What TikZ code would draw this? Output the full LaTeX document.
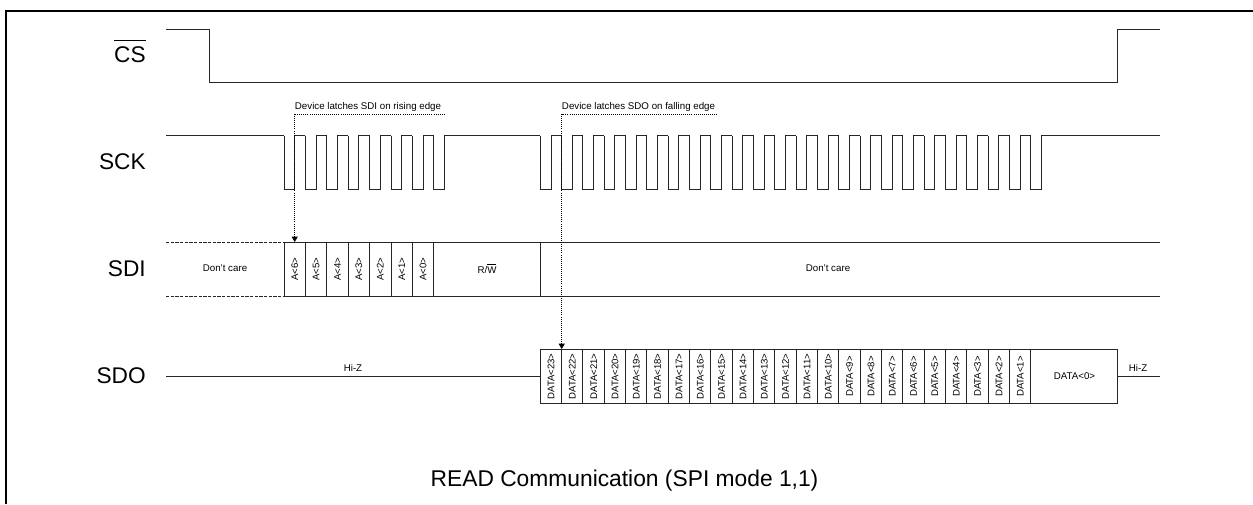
\documentclass[tikz,border=0pt]{standalone}
\usepackage{fontspec}
\setmainfont{Liberation Sans}
\usetikzlibrary{arrows.meta}
\begin{document}
\begin{tikzpicture}[
  x={(0.75pt,0pt)},
  y={(0pt,-0.75pt)},
  line join=miter,
  wave/.style={draw=black!85,line width=0.75pt},
  frameline/.style={draw=black,line width=1.4pt},
  latch/.style={draw=black,line width=0.55pt,densely dotted},
  latchtip/.style={-{Triangle[length=4pt,width=4.5pt]}},
  signal/.style={anchor=east,inner sep=0pt,font=\fontsize{17}{19}\selectfont},
  note/.style={anchor=west,inner sep=0pt,font=\fontsize{7.3}{9}\selectfont},
  small/.style={inner sep=0pt,font=\fontsize{7.3}{9}\selectfont},
  bit/.style={inner sep=0pt,rotate=90,font=\fontsize{7.2}{9}\selectfont}
]
  \useasboundingbox (0,0) rectangle (1253,504);

  % Frame is open on the right and at the bottom.
  \draw[frameline] (6.4,504) -- (6.4,11) -- (1253,11);

  % Signal names and caption.
  \node[signal,anchor=base east] (cs) at (146,62) {$\overline{\hbox{\rule{0pt}{15pt}CS}}$};
  \node[signal] (sck) at (146,162) {SCK};
  \node[signal] (sdi) at (146,268.5) {SDI};
  \node[signal] (sdo) at (146,376) {SDO};
  \node[inner sep=0pt,font=\fontsize{17.1}{20}\selectfont] (caption) at (624.5,481) {READ Communication (SPI mode 1,1)};

  % Chip select.
  \draw[wave] (166,29) -- (209,29) -- (209,82) -- (1117.3,82) -- (1117.3,29) -- (1160,29);

  % Clock: two bursts of pulses.
  \draw[wave] (166,135.5) -- (284,135.5);
  \foreach \k in {0,...,7} {
    \draw[wave] ({284+21.4*\k},135.5) -- ({284+21.4*\k},189) -- ({294.7+21.4*\k},189)
      -- ({294.7+21.4*\k},135.5) -- ({305.4+21.4*\k},135.5);
  }
  \draw[wave] (444.5,135.5) -- (540.3,135.5);
  \foreach \k in {0,...,23} {
    \draw[wave] ({540.3+21.33*\k},135.5) -- ({540.3+21.33*\k},189) -- ({551+21.33*\k},189)
      -- ({551+21.33*\k},135.5) -- ({561.6+21.33*\k},135.5);
  }
  \draw[wave] (1042,135.5) -- (1160,135.5);

  % SDI bus.
  \draw[wave,dash pattern=on 2.5pt off 1pt] (166,242) -- (284,242);
  \draw[wave,dash pattern=on 2.5pt off 1pt] (166,296) -- (284,296);
  \draw[wave] (284,242) -- (1160,242);
  \draw[wave] (284,296) -- (1160,296);
  \foreach \x in {284,305.4,326.8,348.2,369.6,391,412.4,433.8,540.3} {
    \draw[wave] (\x,242) -- (\x,296);
  }
  \foreach \b in {0,...,6} {
    \node[bit] (addr\b) at ({294.7+21.4*(6-\b)},269) {A<\b>};
  }
  \node[small] (dontcarea) at (225,268.5) {Don't care};
  \node[small] (rw) at (487,268.5) {R/$\overline{\hbox{W}}$};
  \node[small] (dontcareb) at (828,268.5) {Don't care};

  % SDO bus.
  \draw[wave] (166,376) -- (540.3,376);
  \draw[wave] (1117.3,376) -- (1160,376);
  \draw[wave] (540.3,349) rectangle (1117.3,403);
  \foreach \k in {1,...,23} {
    \draw[wave] ({540.3+21.33*\k},349) -- ({540.3+21.33*\k},403);
  }
  \foreach \b in {1,...,23} {
    \node[bit] (data\b) at ({551+21.33*(23-\b)},376.5) {DATA<\b>};
  }
  \node[small] (datazero) at (1074.5,376) {DATA<0>};
  \node[small] (hiza) at (353,368) {Hi-Z};
  \node[small] (hizb) at (1138,368) {Hi-Z};

  % Latch notes and their arrows.
  \node[note] (sdinote) at (294.7,107) {Device latches SDI on rising edge};
  \node[note] (sdonote) at (561.7,107) {Device latches SDO on falling edge};
  \coordinate (sdicorner) at (294.7,114);
  \coordinate (sdiend) at (444.6,114);
  \coordinate (sditop) at (294.7,242);
  \coordinate (sdocorner) at (561.7,114);
  \coordinate (sdoend) at (717,114);
  \coordinate (sdotop) at (561.7,349);
  \draw[latch] (sdiend) -- (sdicorner);
  \draw[latch,latchtip] (sdicorner) -- (sditop);
  \draw[latch] (sdoend) -- (sdocorner);
  \draw[latch,latchtip] (sdocorner) -- (sdotop);
\end{tikzpicture}
\end{document}
